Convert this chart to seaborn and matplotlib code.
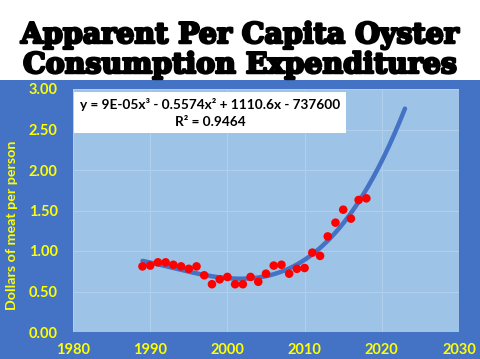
import numpy as np
import pandas as pd
import matplotlib
matplotlib.use("Agg")
import matplotlib.pyplot as plt
import matplotlib.patheffects as pe
from matplotlib.patches import Rectangle
import seaborn as sns

years = list(range(1989, 2019))
dollars = [0.81, 0.82, 0.86, 0.86, 0.83, 0.81, 0.78, 0.81, 0.70, 0.59,
           0.65, 0.68, 0.59, 0.59, 0.68, 0.62, 0.72, 0.82, 0.83, 0.72,
           0.78, 0.79, 0.98, 0.94, 1.18, 1.35, 1.51, 1.40, 1.63, 1.65]
x_ticks = [1980, 1990, 2000, 2010, 2020, 2030]
y_ticks = [0.0, 0.5, 1.0, 1.5, 2.0, 2.5, 3.0]
title_lines = ["Apparent Per Capita Oyster", "Consumption Expenditures"]
eq_text = "y = 9E-05x³ - 0.5574x² + 1110.6x - 737600\nR² = 0.9464"
ylabel = "Dollars of meat per person"

df = pd.DataFrame({"year": years, "dollars": dollars})

# cubic trendline, forecast forward 5 years
xc = np.array(years, dtype=float)
x0 = xc.mean()
coef = np.polyfit(xc - x0, np.array(dollars), 3)
tx = np.linspace(years[0], years[-1] + 5, 200)
trend = pd.DataFrame({"year": tx, "fit": np.polyval(coef, tx - x0)})

sns.set_theme(style="white")
plt.rcParams['font.family'] = ['Lato', 'DejaVu Sans']

W, H = 480, 359
fig = plt.figure(figsize=(4.8, 3.59), dpi=100)
fig.patch.set_facecolor("white")
bg = Rectangle((0, 0), 1, (H - 80) / H, transform=fig.transFigure,
               facecolor="#4472C4", edgecolor="none", zorder=-10)
fig.add_artist(bg)

ax = fig.add_axes([73/W, 27/H, 386/W, 243/H])
ax.set_zorder(1)
ax.set_facecolor("#9DC3E6")

sns.lineplot(data=trend, x="year", y="fit", ax=ax, color="#4472C4", linewidth=3.2, zorder=2)
sns.scatterplot(data=df, x="year", y="dollars", ax=ax, color="#FF0000", s=38,
                edgecolor="none", zorder=3)

ax.set_xlim(1980, 2030)
ax.set_ylim(0, 3)
ax.set_xticks(x_ticks)
ax.set_yticks(y_ticks)
ax.set_yticklabels([f"{v:.2f}" for v in y_ticks])
ax.grid(True, color="#B0CFEC", linewidth=0.8)
ax.set_axisbelow(True)
for s in ax.spines.values():
    s.set_visible(False)
ax.tick_params(axis="both", length=0, colors="#FFFF00", labelsize=10.5)
for lab in ax.get_xticklabels() + ax.get_yticklabels():
    lab.set_fontweight("bold")
ax.tick_params(axis="x", pad=8)
ax.tick_params(axis="y", pad=11)
ax.set_xlabel("")
ax.set_ylabel(ylabel, color="#FFFF00", fontsize=10.3, fontweight="bold")
ax.yaxis.set_label_coords(-0.142, 0.44)

ax.text(0.355, 0.965, eq_text, transform=ax.transAxes, ha="center", va="top",
        fontsize=9.8, fontweight="bold", color="black", multialignment="center",
        linespacing=1.55,
        bbox=dict(boxstyle="square,pad=0.4", facecolor="white", edgecolor="none"))

for line, base in zip(title_lines, [43, 73]):
    fig.text(0.5, 1 - base / H, line, ha="center", va="baseline",
             fontsize=20.5, fontweight="bold", color="black",
             family=["DejaVu Serif"],
             path_effects=[pe.withStroke(linewidth=1.8, foreground="black")])

fig.savefig("out.png", dpi=100, facecolor=fig.get_facecolor())
